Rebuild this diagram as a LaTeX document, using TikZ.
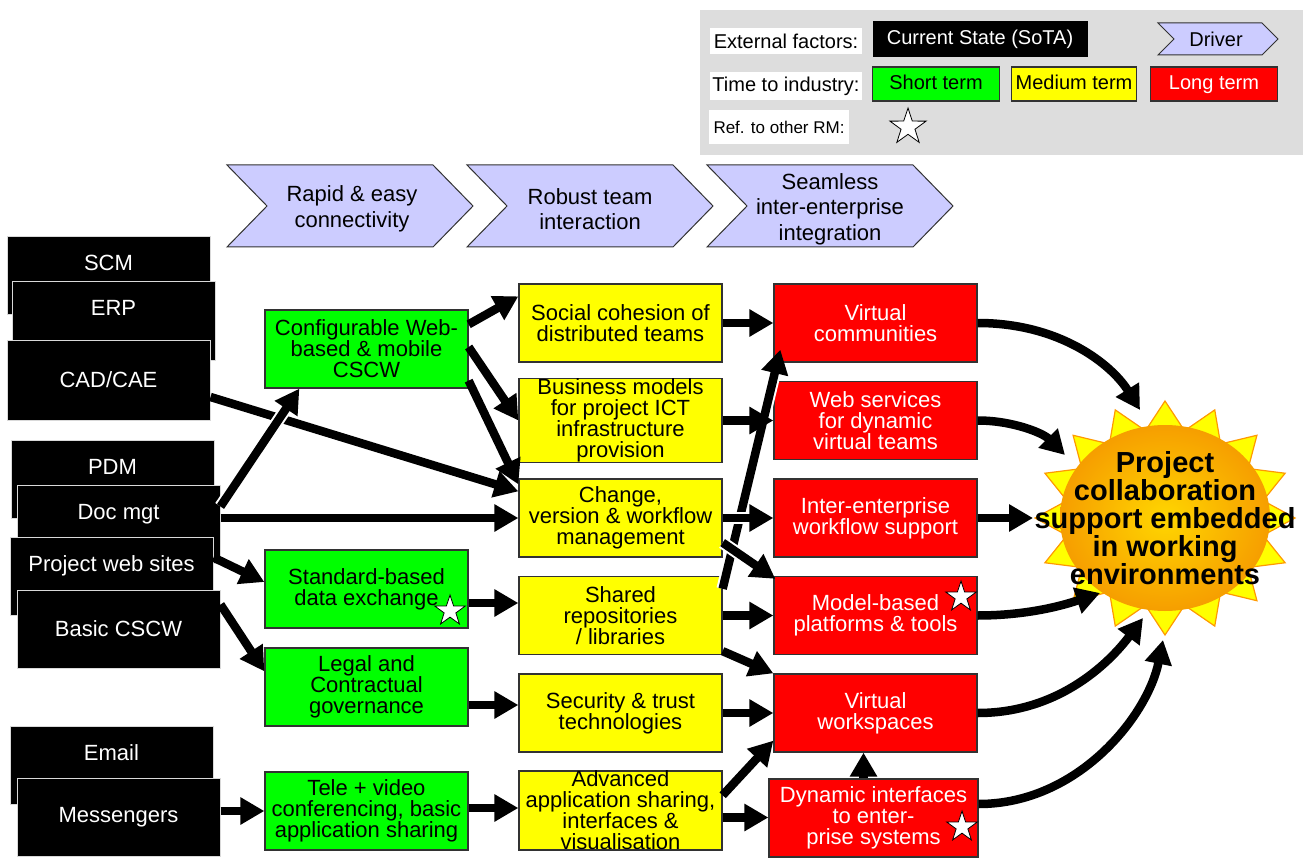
\documentclass[tikz,border=0pt]{standalone}
\usepackage{fontspec}
\setmainfont{Liberation Sans}
\usetikzlibrary{arrows.meta,shapes.geometric,calc}
\definecolor{gfill}{RGB}{0,255,0}
\definecolor{yfill}{RGB}{255,255,0}
\definecolor{rfill}{RGB}{255,0,0}
\definecolor{lav}{RGB}{204,204,255}
\definecolor{lgray}{RGB}{221,221,221}
\definecolor{sunorange}{RGB}{255,153,0}
\definecolor{sunin}{RGB}{255,214,0}
\definecolor{sunout}{RGB}{246,158,0}
\definecolor{edgecol}{RGB}{50,50,50}
\begin{document}
\begin{tikzpicture}[x=1pt,y=-1pt,
  txt/.style={font=\fontsize{22}{21}\selectfont, align=center},
  rbox/.style={txt, draw=edgecol, line width=1.3pt, minimum width=203pt, minimum height=78pt, inner sep=0pt},
  sota/.style={rbox, fill=black, text=white, draw=black!15, line width=1pt},
  raised/.style={text height=16pt, text depth=26pt},
  stbox/.style={rbox, fill=gfill},
  mtbox/.style={rbox, fill=yfill},
  ltbox/.style={rbox, fill=rfill, text=white},
  chev/.style={draw=edgecol, line width=1pt, fill=lav},
  chevtext/.style={font=\fontsize{22}{25.5}\selectfont, align=center},
  rmstar/.style={star, star points=5, star point ratio=2.6, draw=black, fill=white, line width=0.8pt, minimum size=32pt, inner sep=0pt},
  arr/.style={line width=8.5pt, -{Triangle[length=24pt,width=26pt]}},
  wb/.style={preaction={draw=white, line width=12.5pt, arrows=-, shorten >=23pt}},
  legtext/.style={font=\fontsize{20}{20}\selectfont, inner sep=0pt},
  legbox/.style={legtext, draw=edgecol, line width=1.3pt, minimum width=127pt, minimum height=34pt, text height=15pt, text depth=4pt},
]
\useasboundingbox (0,0) rectangle (1308,858);

% ---------- legend ----------
\fill[lgray] (700,10) rectangle (1303,155);
\node[legtext, fill=white, minimum width=152pt, minimum height=26pt] (lef) at (786,41) {External factors:};
\node[legtext, fill=black, text=white, minimum width=215pt, minimum height=36pt] (lsota) at (980,39) {Current State (SoTA)};
\draw[chev] (1158,23) -- (1262,23) -- (1278,39) -- (1262,55) -- (1158,55) -- (1174,39) -- cycle;
\node[legtext] (ldrv) at (1216,39) {Driver};
\node[legtext, fill=white, minimum width=152pt, minimum height=28pt] (lti) at (786,86) {Time to industry:};
\node[legbox, fill=gfill] (lst) at (936,84) {Short term};
\node[legbox, fill=yfill, minimum width=125pt] (lmt) at (1074,84) {Medium term};
\node[legbox, fill=rfill, text=white] (llt) at (1214,84) {Long term};
\node[font=\fontsize{17}{17}\selectfont, fill=white, minimum width=140pt, minimum height=34pt, inner sep=0pt] (lref) at (779,127) {Ref. to other RM:};
\node[rmstar, minimum size=38pt] (lstar) at (908,127) {};

% ---------- drivers ----------
\foreach \x in {227,467,707}
  \draw[chev] (\x,165) -- ++(206,0) -- ++(40,41) -- ++(-40,41) -- ++(-206,0) -- ++(40,-41) -- cycle;
\node[chevtext] (d1) at (352,209) {Rapid \& easy\\connectivity};
\node[chevtext] (d2) at (590,209) {Robust team\\interaction};
\node[chevtext] (d3) at (830,209) {Seamless\\inter-enterprise\\integration};

% ---------- state of the art ----------
\node[sota, raised] (scm) at (108.5,276) {SCM};
\node[sota, raised] (erp) at (113.5,321) {ERP};
\node[sota, minimum height=80pt] (cad) at (108.5,380) {CAD/CAE};
\node[sota, raised] (pdm) at (112.5,479) {PDM};
\node[sota, raised] (doc) at (118.5,524) {Doc mgt};
\node[sota, raised] (pws) at (111.5,576) {Project web sites};
\node[sota] (bcs) at (118.5,629) {Basic CSCW};
\node[sota, raised] (eml) at (111.5,765) {Email};
\node[sota] (msg) at (118.5,817) {Messengers};

% ---------- short term ----------
\node[stbox] (cfg) at (366.5,349) {Configurable Web-\\based \& mobile\\CSCW};
\node[stbox] (std) at (366.5,589) {Standard-based\\data exchange};
\node[stbox] (leg) at (366.5,687) {Legal and\\Contractual\\governance};
\node[stbox] (tel) at (366.5,811) {Tele + video\\conferencing, basic\\application sharing};

% ---------- medium term ----------
\node[mtbox] (soc) at (620.5,323) {Social cohesion of\\distributed teams};
\node[mtbox] (bus) at (620.5,420.5) {Business models\\for project ICT\\infrastructure\\provision};
\node[mtbox] (chg) at (620.5,518) {Change,\\version \& workflow\\management};
\node[mtbox] (shr) at (620.5,615.5) {Shared\\repositories\\/ libraries};
\node[mtbox] (sec) at (620.5,713) {Security \& trust\\technologies};
\node[mtbox] (adv) at (620.5,810.5) {Advanced\\application sharing,\\interfaces \&\\visualisation};

% ---------- long term ----------
\node[ltbox] (vc) at (875.5,323) {Virtual\\communities};
\node[ltbox] (ws) at (875.5,420.5) {Web services\\for dynamic\\virtual teams};
\node[ltbox] (ie) at (875.5,518) {Inter-enterprise\\workflow support};
\node[ltbox] (mb) at (875.5,615.5) {Model-based\\platforms \& tools};
\node[ltbox] (vw) at (875.5,713) {Virtual\\workspaces};
\node[ltbox, minimum width=209pt] (dyn) at (873.5,818) {Dynamic interfaces\\to enter-\\prise systems};

% ---------- sun ----------
\path[draw=sunorange, fill=yfill, line width=1.2pt] (1165,401)
  \foreach \i in {0,...,15} {
    -- ({1165+130*cos(90+22.5*\i)},{518-117*sin(90+22.5*\i)})
    -- ({1165+100*cos(101.25+22.5*\i)},{518-89*sin(101.25+22.5*\i)})
  } -- cycle;
\shade[inner color=sunin, outer color=sunout] (1165,518) ellipse [x radius=105, y radius=93];
\node[font=\bfseries\fontsize{29}{28}\selectfont, align=center] (sun) at (1165,518)
  {Project\\collaboration\\support embedded\\in working\\environments};
\coordinate (t1) at (1140,410);
\coordinate (t2) at (1065,455);
\coordinate (t3) at (1033,518);
\coordinate (t4) at (1100,593);
\coordinate (t5) at (1143,618);
\coordinate (t6) at (1163,640);

% ---------- connectors ----------
\draw[arr,wb] ($(shr.north east)+(0,13)$) -- ($(vc.south west)+(7,-13)$);
\draw[arr] ($(cad.east)+(0,17)$) -- ($(chg.north west)+(0,13)$);
\draw[arr,wb] ($(doc.north east)+(0,22)$) -- ($(cfg.south west)+(35,0)$);
\draw[arr] (doc.east |- chg.west) -- (chg.west);
\draw[arr] ($(pws.north east)+(0,21)$) -- ($(std.west)+(0,-7)$);
\draw[arr] ($(bcs.north east)+(0,15)$) -- ($(leg.north west)+(0,24)$);
\draw[arr] (msg.east |- tel.west) -- (tel.west);

\draw[arr] ($(cfg.north east)+(0,15)$) -- ($(soc.north west)+(0,13)$);
\draw[arr] ($(cfg.east)+(0,-2)$) -- (bus.west);
\draw[arr] ($(cfg.south east)+(0,-8)$) -- ($(chg.north west)+(0,6)$);
\draw[arr] ($(std.east)+(0,14)$) -- ($(std.east -| shr.west)+(0,14)$);
\draw[arr] ($(leg.east)+(0,18)$) -- ($(leg.east -| sec.west)+(0,18)$);
\draw[arr] ($(tel.east)+(0,-3)$) -- ($(tel.east -| adv.west)+(0,-3)$);

\draw[arr] (soc.east) -- (vc.west);
\draw[arr,wb] (bus.east) -- (ws.west);
\draw[arr,wb] (chg.east) -- (ie.west);
\draw[arr,wb] ($(chg.south east)+(0,-15)$) -- ($(mb.north west)+(2,3)$);
\draw[arr] (shr.east) -- (mb.west);
\draw[arr] ($(shr.south east)+(0,-4)$) -- (vw.north west);
\draw[arr] (sec.east) -- (vw.west);
\draw[arr] ($(adv.north east)+(0,25)$) -- ($(vw.south west)+(0,-12)$);
\draw[arr] ($(adv.east)+(0,7)$) -- ($(adv.east -| dyn.west)+(0,7)$);
\draw[arr] ($(dyn.north)+(-10,0)$) -- ($(vw.south)+(-12,0)$);

\draw[arr] (vc.east) .. controls +(83,0) and +(-28,-45) .. (t1);
\draw[arr] (ws.east) .. controls +(35,0) and +(-22,-22) .. (t2);
\draw[arr] (ie.east) -- (t3);
\draw[arr] (mb.east) .. controls +(55,0) and +(-30,10) .. (t4);
\draw[arr] (vw.east) .. controls +(85,0) and +(-30,40) .. (t5);
\draw[arr] ($(dyn.east)+(0,-14)$) .. controls +(100,0) and +(-15,75) .. (t6);

% ---------- reference stars ----------
\node[rmstar] (s1) at (450,611) {};
\node[rmstar] (s2) at (961,597) {};
\node[rmstar] (s3) at (962,827) {};
\end{tikzpicture}
\end{document}
